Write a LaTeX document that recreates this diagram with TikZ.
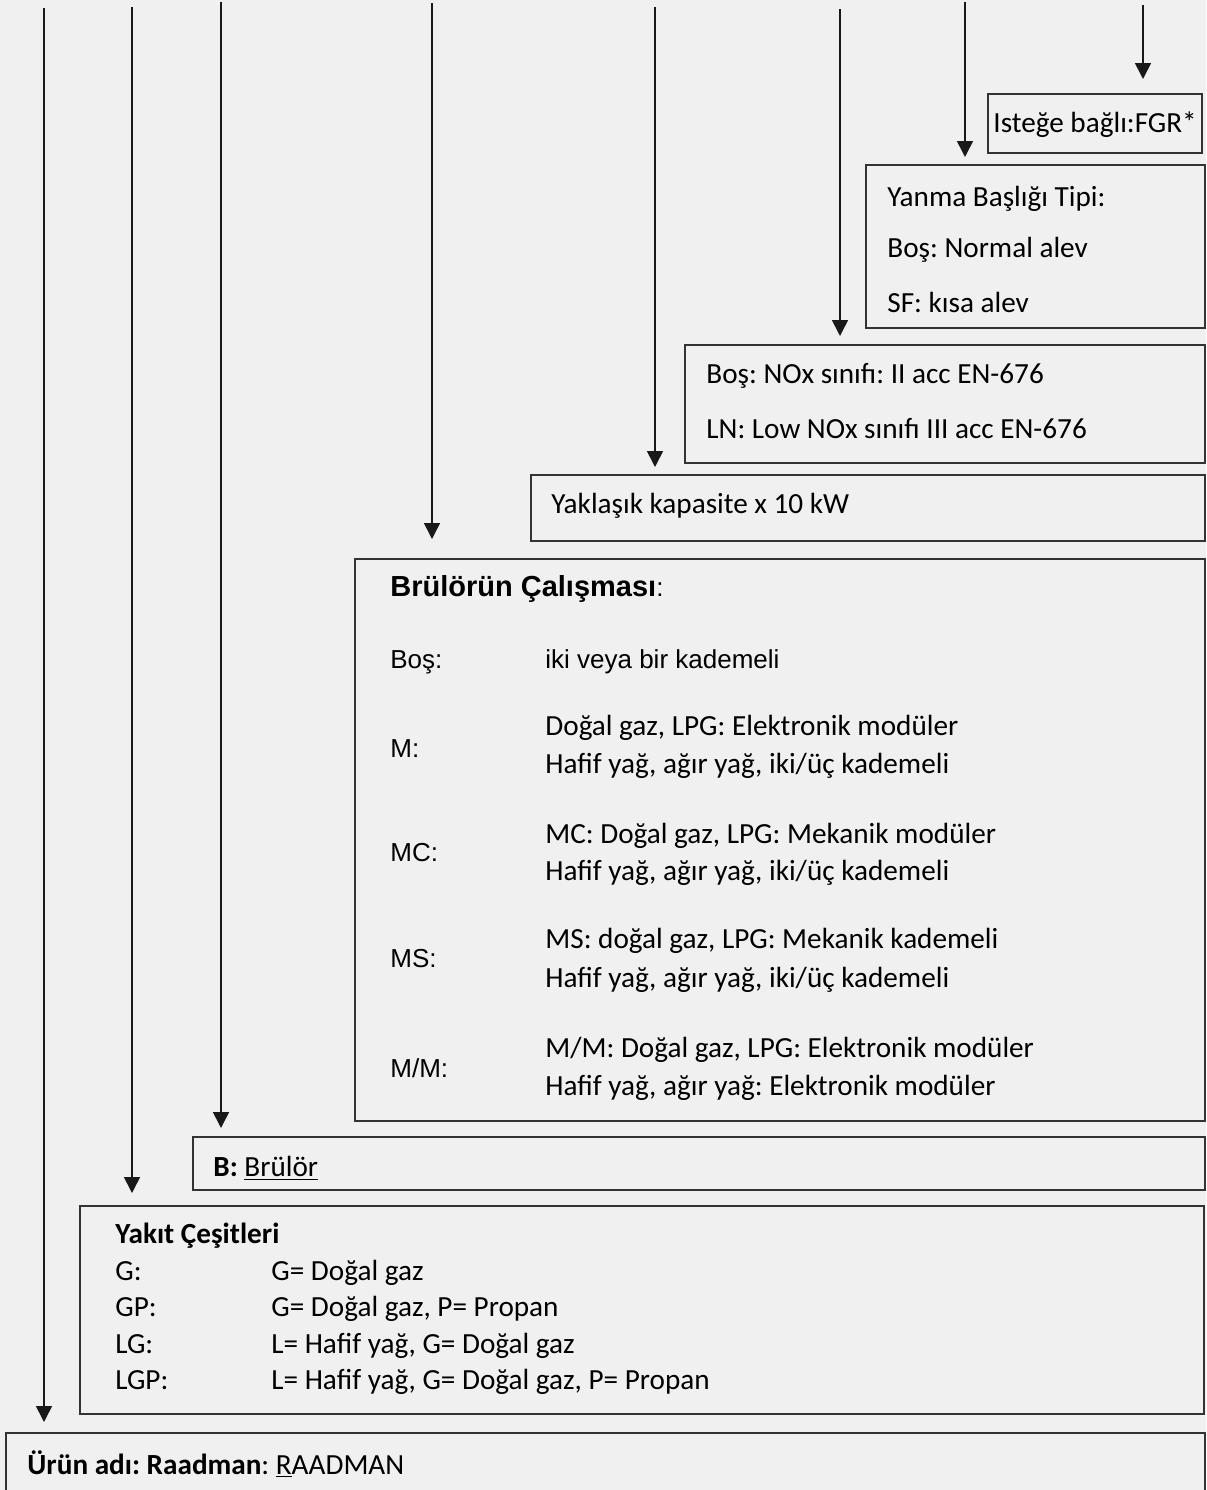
\documentclass[tikz,border=0pt]{standalone}
\usepackage{fontspec}
\setmainfont{Carlito}
\newfontfamily\arialfont{Liberation Sans}
\usetikzlibrary{arrows.meta,fit}
\frenchspacing

\definecolor{zemin}{HTML}{F0F0F0}
\definecolor{cizgi}{HTML}{333333}

\newcommand{\calfont}{\fontsize{14.6pt}{17.5pt}\selectfont}
\newcommand{\arfont}{\arialfont\fontsize{13pt}{15.6pt}\selectfont}

\begin{document}
\begin{tikzpicture}[x=0.5pt, y=-0.5pt,
    kutu/.style = {draw=cizgi, line width=1pt, inner sep=0pt, outer sep=0pt},
    yazi/.style = {anchor=base west, inner sep=0pt, font=\calfont},
    etiket/.style = {anchor=base west, inner sep=0pt, font=\arfont},
    ok/.style = {draw=black!90, line width=0.8pt, -{Triangle[width=8pt,length=8pt]}}]

    \useasboundingbox (0,0) rectangle (1206,1490);
    \clip (0,0) rectangle (1206,1490);
    \fill[zemin] (0,0) rectangle (1206,1490);

    % kutular
    \node[kutu, fit={(988,94) (1202,153)}] (fgr) {};
    \node[kutu, fit={(866,165) (1205,328)}] (yanma) {};
    \node[kutu, fit={(685,345) (1205,463)}] (nox) {};
    \node[kutu, fit={(531,475) (1205,541)}] (kapasite) {};
    \node[kutu, fit={(355,559) (1205,1121)}] (calisma) {};
    \node[kutu, fit={(193,1137) (1205,1190)}] (brulor) {};
    \node[kutu, fit={(80,1206) (1204,1414)}] (yakit) {};
    \node[kutu, fit={(6,1433) (1205,1500)}] (urun) {};

    % yazilar
    \node[yazi] (fgrYazi) at (993,132) {Isteğe bağlı:FGR*};

    \node[yazi] (yanma1) at (887,206) {Yanma Başlığı Tipi:};
    \node[yazi] (yanma2) at (887,257) {Boş: Normal alev};
    \node[yazi] (yanma3) at (887,312) {SF: kısa alev};

    \node[yazi] (nox1) at (706,383) {Boş: NOx sınıfı: II acc EN-676};
    \node[yazi] (nox2) at (706,438) {LN: Low NOx sınıfı III acc EN-676};

    \node[yazi] (kapYazi) at (551,513) {Yaklaşık kapasite x 10 kW};

    \node[etiket] (calBaslik) at (390,596)
        {{\fontsize{14.5pt}{17pt}\selectfont\bfseries Brülörün Çalışması}:};
    \node[etiket] (bos) at (390,668) {Boş:};
    \node[etiket] (bosYazi) at (545,668) {iki veya bir kademeli};
    \node[etiket] (m) at (390,757) {M:};
    \node[yazi] (m1) at (545,735) {Doğal gaz, LPG: Elektronik modüler};
    \node[yazi] (m2) at (545,773) {Hafif yağ, ağır yağ, iki/üç kademeli};
    \node[etiket] (mc) at (390,861) {MC:};
    \node[yazi] (mc1) at (545,843) {MC: Doğal gaz, LPG: Mekanik modüler};
    \node[yazi] (mc2) at (545,880) {Hafif yağ, ağır yağ, iki/üç kademeli};
    \node[etiket] (ms) at (390,967) {MS:};
    \node[yazi] (ms1) at (545,948) {MS: doğal gaz, LPG: Mekanik kademeli};
    \node[yazi] (ms2) at (545,987) {Hafif yağ, ağır yağ, iki/üç kademeli};
    \node[etiket] (mm) at (390,1077) {M/M:};
    \node[yazi] (mm1) at (545,1057) {M/M: Doğal gaz, LPG: Elektronik modüler};
    \node[yazi] (mm2) at (545,1095) {Hafif yağ, ağır yağ: Elektronik modüler};

    \node[yazi] (brYazi) at (213,1176) {\textbf{B:} \underline{Brülör}};

    \node[yazi] (yakitBaslik) at (115,1243) {\textbf{Yakıt Çeşitleri}};
    \node[yazi] (g) at (115,1280) {G:};
    \node[yazi] (gYazi) at (271,1280) {G= Doğal gaz};
    \node[yazi] (gp) at (115,1316) {GP:};
    \node[yazi] (gpYazi) at (271,1316) {G= Doğal gaz, P= Propan};
    \node[yazi] (lg) at (115,1353) {LG:};
    \node[yazi] (lgYazi) at (271,1353) {L= Hafif yağ, G= Doğal gaz};
    \node[yazi] (lgp) at (115,1389) {LGP:};
    \node[yazi] (lgpYazi) at (271,1389) {L= Hafif yağ, G= Doğal gaz, P= Propan};

    \node[yazi] (urunYazi) at (27,1474) {\textbf{Ürün adı: Raadman}: \underline{R}AADMAN};

    % oklar
    \coordinate (u1) at (44,8);
    \coordinate (u2) at (132,7);
    \coordinate (u3) at (221,2);
    \coordinate (u4) at (432,3);
    \coordinate (u5) at (655,7);
    \coordinate (u6) at (840,9);
    \coordinate (u7) at (965,2);
    \coordinate (u8) at (1143,5);

    \draw[ok, shorten >=5.5pt] (u1) -- (u1 |- urun.north);
    \draw[ok, shorten >=6.5pt] (u2) -- (u2 |- yakit.north);
    \draw[ok, shorten >=4.5pt] (u3) -- (u3 |- brulor.north);
    \draw[ok, shorten >=10pt] (u4) -- (u4 |- calisma.north);
    \draw[ok, shorten >=4pt] (u5) -- (u5 |- kapasite.north);
    \draw[ok, shorten >=4.5pt] (u6) -- (u6 |- nox.north);
    \draw[ok, shorten >=4pt] (u7) -- (u7 |- yanma.north);
    \draw[ok, shorten >=7.5pt] (u8) -- (u8 |- fgr.north);

\end{tikzpicture}
\end{document}
